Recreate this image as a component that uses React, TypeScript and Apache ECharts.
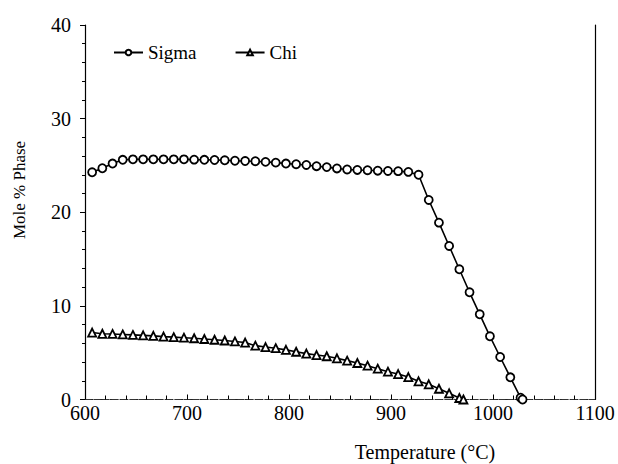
import React, { useEffect, useRef } from "react";
import * as echarts from "echarts";

const sigmaTemps = [607, 617, 627, 637, 647, 657, 667, 677, 687, 697, 707, 717, 727, 737, 747, 757, 767, 777, 787, 797, 807, 817, 827, 837, 847, 857, 867, 877, 887, 897, 907, 917, 927, 937, 947, 957, 967, 977, 987, 997, 1007, 1017, 1027, 1029];
const sigmaValues = [24.27, 24.7, 25.2, 25.6, 25.65, 25.65, 25.65, 25.65, 25.65, 25.65, 25.62, 25.6, 25.58, 25.55, 25.5, 25.47, 25.45, 25.38, 25.3, 25.2, 25.13, 25.05, 24.92, 24.82, 24.68, 24.57, 24.52, 24.49, 24.44, 24.41, 24.39, 24.31, 24.0, 21.31, 18.89, 16.4, 13.91, 11.45, 9.1, 6.75, 4.54, 2.37, 0.19, 0];

const chiTemps = [607, 617, 627, 637, 647, 657, 667, 677, 687, 697, 707, 717, 727, 737, 747, 757, 767, 777, 787, 797, 807, 817, 827, 837, 847, 857, 867, 877, 887, 897, 907, 917, 927, 937, 947, 957, 967, 971];
const chiValues = [7.15, 7.02, 7.0, 6.95, 6.9, 6.85, 6.8, 6.72, 6.66, 6.6, 6.54, 6.46, 6.38, 6.3, 6.2, 6.08, 5.75, 5.6, 5.48, 5.3, 5.1, 4.9, 4.75, 4.62, 4.4, 4.15, 3.9, 3.61, 3.29, 2.97, 2.72, 2.4, 1.94, 1.62, 1.15, 0.66, 0.16, 0];

const xTicks = [600, 700, 800, 900, 1000, 1100];
const yTicks = [0, 10, 20, 30, 40];

const FONT = '"Liberation Serif", "Times New Roman", serif';

export default function App() {
  const ref = useRef<HTMLDivElement>(null);
  useEffect(() => {
    if (!ref.current) return;
    const chart = echarts.init(ref.current, null, { renderer: "svg" });
    const sigma = sigmaTemps.map((t, i) => [t, sigmaValues[i]]);
    const chi = chiTemps.map((t, i) => [t, chiValues[i]]);
    chart.setOption({
      animation: false,
      backgroundColor: "#ffffff",
      textStyle: { fontFamily: FONT, color: "#000" },
      grid: { left: 85, right: 23, top: 25, bottom: 64.5 },
      legend: {
        left: 108,
        top: 38,
        itemWidth: 29,
        itemHeight: 7,
        itemGap: 38,
        textStyle: { fontFamily: FONT, fontSize: 19, color: "#000" },
        data: ["Sigma", "Chi"],
      },
      xAxis: [
        {
          type: "value",
          min: xTicks[0],
          max: xTicks[xTicks.length - 1],
          interval: 100,
          position: "bottom",
          axisLine: { show: true, lineStyle: { color: "#222", width: 1, type: [3, 2] } },
          axisTick: { show: true, inside: true, length: 5, lineStyle: { color: "#000" } },
          minorTick: { show: true, splitNumber: 5, length: 4, lineStyle: { color: "#000" } },
          splitLine: { show: false },
          axisLabel: {
            fontFamily: FONT,
            fontSize: 20,
            color: "#000",
            margin: 3,
            formatter: (v: number) => String(v),
          },
        },
        {
          type: "value",
          min: xTicks[0],
          max: xTicks[xTicks.length - 1],
          interval: 100,
          position: "top",
          axisLine: { show: true, lineStyle: { color: "#333", width: 1, type: [6, 3] } },
          axisTick: { show: false },
          axisLabel: { show: false },
          splitLine: { show: false },
        },
      ],
      yAxis: [
        {
          type: "value",
          min: yTicks[0],
          max: yTicks[yTicks.length - 1],
          interval: 10,
          position: "left",
          axisLine: { show: true, lineStyle: { color: "#000", width: 1.2 } },
          axisTick: { show: true, inside: false, length: 5, lineStyle: { color: "#000" } },
          minorTick: { show: true, splitNumber: 5, length: 3, lineStyle: { color: "#000" } },
          splitLine: { show: false },
          axisLabel: { fontFamily: FONT, fontSize: 20, color: "#000", margin: 14 },
        },
        {
          type: "value",
          min: yTicks[0],
          max: yTicks[yTicks.length - 1],
          interval: 10,
          position: "right",
          axisLine: { show: true, lineStyle: { color: "#000", width: 1.2 } },
          axisTick: { show: false },
          axisLabel: { show: false },
          splitLine: { show: false },
        },
      ],
      graphic: [
        {
          type: "text",
          x: 425,
          y: 452,
          style: {
            text: "Temperature (°C)",
            font: `20px ${FONT}`,
            fill: "#000",
            align: "center",
            verticalAlign: "middle",
          },
        },
        {
          type: "text",
          x: 19,
          y: 190,
          rotation: Math.PI / 2,
          style: {
            text: "Mole % Phase",
            font: `17px ${FONT}`,
            fill: "#000",
            align: "center",
            verticalAlign: "middle",
          },
        },
      ],
      series: [
        {
          name: "Sigma",
          type: "line",
          data: sigma,
          symbol: "circle",
          symbolSize: 8,
          showAllSymbol: true,
          lineStyle: { color: "#000", width: 1.6 },
          itemStyle: { color: "#fff", borderColor: "#000", borderWidth: 1.8 },
          emphasis: { disabled: true },
        },
        {
          name: "Chi",
          type: "line",
          data: chi,
          symbol: "triangle",
          symbolSize: 8,
          showAllSymbol: true,
          lineStyle: { color: "#000", width: 1.6 },
          itemStyle: { color: "#fff", borderColor: "#000", borderWidth: 1.8 },
          emphasis: { disabled: true },
        },
      ],
    });
    return () => chart.dispose();
  }, []);
  return <div ref={ref} style={{ width: 618, height: 464, position: "absolute", left: 0, top: 0 }} />;
}
